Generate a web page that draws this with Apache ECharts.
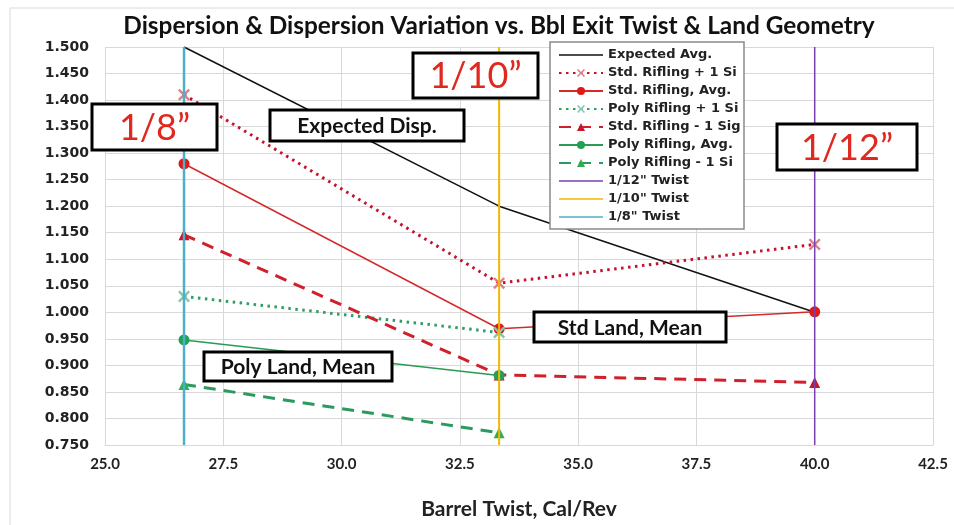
<!DOCTYPE html>
<html>
<head>
<meta charset="utf-8">
<script src="https://cdn.jsdelivr.net/npm/echarts@6/dist/echarts.min.js"></script>
<style>
html,body{margin:0;padding:0;background:#fff;}
#chart{width:954px;height:525px;}
</style>
</head>
<body>
<div id="chart"></div>
<script>
// ---- data ----
const twistX = [26.67, 33.33, 40.0];
const expectedAvg = [1.500, 1.200, 1.000];
const stdPlus1 = [1.410, 1.055, 1.128];
const stdAvg = [1.280, 0.969, 1.001];
const polyPlus1 = [1.030, 0.962];
const stdMinus1 = [1.146, 0.882, 0.868];
const polyAvg = [0.948, 0.881];
const polyMinus1 = [0.864, 0.773];
const twistLineX = [40.0, 33.33, 26.67];
const twistLineNames = ['1/12" Twist', '1/10" Twist', '1/8" Twist'];
const yRange = [0.75, 1.5];

function pts(ys) { return ys.map((y, i) => [twistX[i], y]); }

const xMark = 'path://M0,1.4L1.4,0L5,3.6L8.6,0L10,1.4L6.4,5L10,8.6L8.6,10L5,6.4L1.4,10L0,8.6L3.6,5Z';

const chart = echarts.init(document.getElementById('chart'));

function box(x, y, w, h, text, font, color) {
  return {
    type: 'group', z: 100,
    children: [
      { type: 'rect', z: 100, shape: { x: x, y: y, width: w, height: h },
        style: { fill: '#fff', stroke: '#000', lineWidth: 3 } },
      { type: 'text', z: 101, x: x + w / 2, y: y + h / 2 + 1,
        style: { text: text, font: font, fill: color, align: 'center', verticalAlign: 'middle' } }
    ]
  };
}

const series = [
  { name: 'Expected Avg.', type: 'line', data: pts(expectedAvg), symbol: 'none',
    lineStyle: { color: '#111', width: 1.5 }, itemStyle: { color: '#111' } },
  { name: 'Std. Rifling + 1 Sigma', type: 'line', data: pts(stdPlus1), symbol: xMark, symbolSize: 12,
    lineStyle: { color: '#c8102e', width: 3, type: [2.5, 4.5] }, itemStyle: { color: '#dc7f86' } },
  { name: 'Std. Rifling, Avg.', type: 'line', data: pts(stdAvg), symbol: 'circle', symbolSize: 11,
    lineStyle: { color: '#d42a2a', width: 1.5 }, itemStyle: { color: '#e01818' } },
  { name: 'Poly Rifling + 1 Sigma', type: 'line', data: pts(polyPlus1), symbol: xMark, symbolSize: 12,
    lineStyle: { color: '#2f9e66', width: 3, type: [2.5, 4.5] }, itemStyle: { color: '#86c3ad' } },
  { name: 'Std. Rifling - 1 Sigma', type: 'line', data: pts(stdMinus1), symbol: 'triangle', symbolSize: 11,
    lineStyle: { color: '#d0202c', width: 3, type: [12, 8] }, itemStyle: { color: '#c8142c' } },
  { name: 'Poly Rifling, Avg.', type: 'line', data: pts(polyAvg), symbol: 'circle', symbolSize: 11,
    lineStyle: { color: '#2a9a54', width: 1.5 }, itemStyle: { color: '#22a054' } },
  { name: 'Poly Rifling - 1 Sigma', type: 'line', data: pts(polyMinus1), symbol: 'triangle', symbolSize: 11,
    lineStyle: { color: '#2a9a5e', width: 3, type: [12, 8] }, itemStyle: { color: '#2fae52' } }
];
const twistColors = ['#7a3fb0', '#f2b800', '#4bb0c8'];
const twistWidths = [1.5, 2, 2.5];
twistLineX.forEach((x, i) => {
  series.push({
    name: twistLineNames[i], type: 'line', symbol: 'none',
    data: [[x, yRange[0]], [x, yRange[1]]],
    lineStyle: { color: twistColors[i], width: twistWidths[i] },
    itemStyle: { color: twistColors[i] }, z: 3
  });
});
series.forEach(s => { s.animation = false; if (!s.z) s.z = 2; });

const thinLine = 'path://M0,0H44V1.6H0Z';
const legendData = series.map(s => s.symbol === 'none' ? { name: s.name, icon: thinLine } : { name: s.name });

chart.setOption({
  animation: false,
  backgroundColor: '#fff',
  title: {
    text: 'Dispersion & Dispersion Variation vs. Bbl Exit Twist & Land Geometry',
    left: 494, textAlign: 'center', top: 9,
    textStyle: { fontFamily: 'Lato', fontWeight: 'bold', fontSize: 24.4, color: '#111' }
  },
  grid: { left: 105, right: 21, top: 47, bottom: 76, containLabel: false },
  xAxis: {
    type: 'value', min: 25, max: 42.5, interval: 2.5,
    name: 'Barrel Twist, Cal/Rev', nameLocation: 'middle', nameGap: 54,
    nameTextStyle: { fontFamily: 'Lato', fontWeight: 'bold', fontSize: 21, color: '#222' },
    axisLine: { show: true, lineStyle: { color: '#d9d9d9', width: 1 } },
    axisTick: { show: false },
    axisLabel: { margin: 12, fontFamily: 'Lato', fontWeight: 'bold', fontSize: 15, color: '#222',
      formatter: v => Number(v).toFixed(1) },
    splitLine: { show: true, lineStyle: { color: '#d9d9d9', width: 1 } }
  },
  yAxis: {
    type: 'value', min: yRange[0], max: yRange[1], interval: 0.05,
    axisLine: { show: false }, axisTick: { show: false },
    axisLabel: { margin: 16, fontFamily: 'DejaVu Sans', fontWeight: 'bold', fontSize: 14, color: '#222',
      formatter: v => Number(v).toFixed(3) },
    splitLine: { show: true, lineStyle: { color: '#d9d9d9', width: 1 } }
  },
  legend: {
    orient: 'vertical', left: 550, top: 42,
    padding: [6, 2, 5, 8],
    itemWidth: 44, itemHeight: 10, itemGap: 4,
    selectedMode: false,
    backgroundColor: '#fff', borderColor: '#8a8a8a', borderWidth: 1.5,
    data: legendData,
    textStyle: { fontFamily: 'DejaVu Sans', fontWeight: 'bold', fontSize: 13, color: '#222',
      lineHeight: 14, width: 134, height: 14, overflow: 'breakAll', lineOverflow: 'truncate' }
  },
  graphic: [
    { type: 'rect', silent: true, z: -10, shape: { x: 10, y: 8, width: 960, height: 540 },
      style: { fill: 'none', stroke: '#d9d9d9', lineWidth: 1 } },
    box(92, 104, 125, 46, '1/8\u201D', '36px Lato', '#e0281e'),
    box(413, 53, 125, 45, '1/10\u201D', '36px Lato', '#e0281e'),
    box(777, 124, 140, 46, '1/12\u201D', '36px Lato', '#e0281e'),
    box(270, 110, 194, 31, 'Expected Disp.', 'bold 21px Lato', '#111'),
    box(534, 312, 192, 30, 'Std Land, Mean', 'bold 21px Lato', '#111'),
    box(204, 352, 188, 29, 'Poly Land, Mean', 'bold 21px Lato', '#111')
  ],
  series: series
});
</script>
</body>
</html>
